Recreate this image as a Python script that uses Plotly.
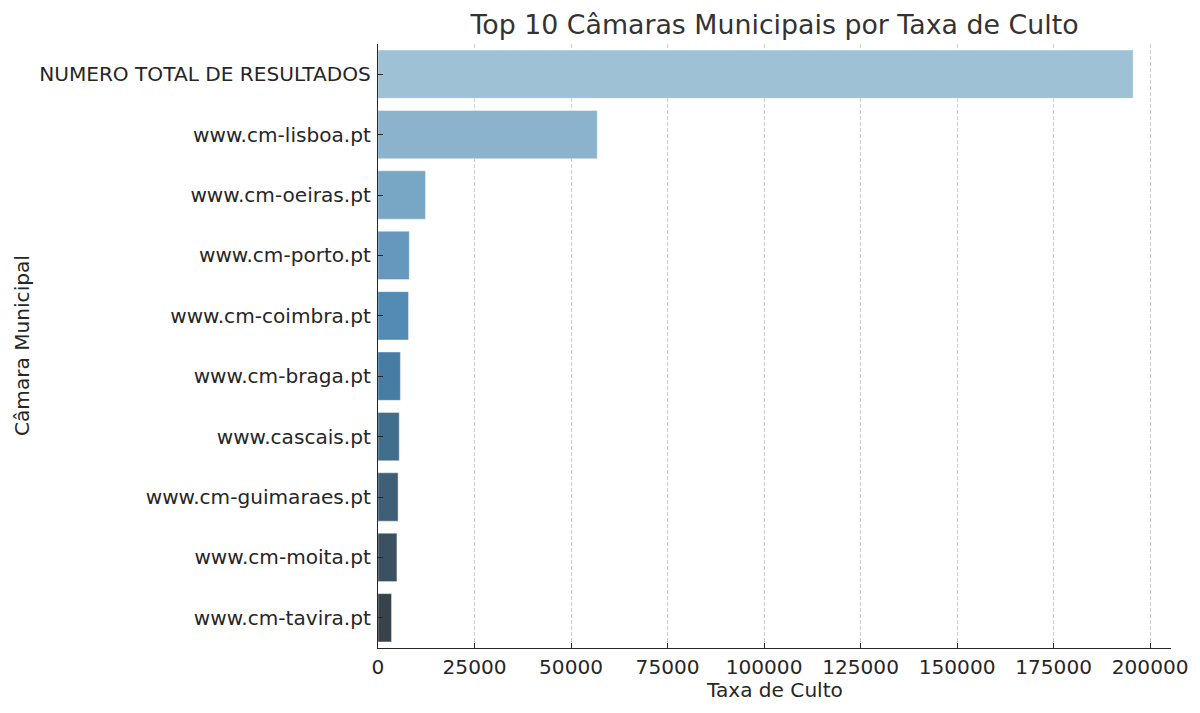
import colorsys
import plotly.graph_objects as go

categories = [
    "NUMERO TOTAL DE RESULTADOS",
    "www.cm-lisboa.pt",
    "www.cm-oeiras.pt",
    "www.cm-porto.pt",
    "www.cm-coimbra.pt",
    "www.cm-braga.pt",
    "www.cascais.pt",
    "www.cm-guimaraes.pt",
    "www.cm-moita.pt",
    "www.cm-tavira.pt",
]
values = [195600, 56800, 12300, 8100, 7900, 5800, 5500, 5200, 4900, 3500]
x_ticks = [0, 25000, 50000, 75000, 100000, 125000, 150000, 175000, 200000]

title_text = "Top 10 Câmaras Municipais por Taxa de Culto"
x_title = "Taxa de Culto"
y_title = "Câmara Municipal"


# seaborn-like "Blues_d" palette, desaturated to 0.75
def blend_palette(anchors, n):
    out = []
    for i in range(n):
        t = (i + 1) / (n + 1)
        seg = min(int(t * (len(anchors) - 1)), len(anchors) - 2)
        f = t * (len(anchors) - 1) - seg
        a, b = anchors[seg], anchors[seg + 1]
        rgb = [(a[k] + (b[k] - a[k]) * f) / 255 for k in range(3)]
        h, l, s = colorsys.rgb_to_hls(*rgb)
        r, g, bb = colorsys.hls_to_rgb(h, l, s * 0.75)
        out.append("rgb(%d,%d,%d)" % (round(r * 255), round(g * 255), round(bb * 255)))
    return out


colors = blend_palette([(171, 208, 230), (55, 135, 192), (51, 51, 51)], len(categories))

FONT = "DejaVu Sans"
TXT = "#262626"
FS = 20.1

# plot area in figure coordinates (page has an 8px body offset)
L, R, T, B = 370, 1163, 36, 640
W, H = 1200, 713

fig = go.Figure(
    go.Bar(
        x=values,
        y=categories,
        orientation="h",
        width=0.8,
        marker=dict(color=colors, line=dict(width=0.8, color="rgba(255,255,255,0.5)")),
    )
)

fig.update_layout(
    width=W,
    height=H,
    margin=dict(l=L, r=W - R, t=T, b=H - B),
    paper_bgcolor="white",
    plot_bgcolor="white",
    showlegend=False,
    font=dict(family=FONT, size=FS, color=TXT),
    title=dict(
        text=title_text,
        x=0.5,
        xref="paper",
        xanchor="center",
        y=1 - 17 / H,
        yref="container",
        yanchor="middle",
        font=dict(family=FONT, size=26.8, color="#333333"),
    ),
    bargap=0.2,
)

fig.update_xaxes(
    range=[0, 205400],
    tickvals=x_ticks,
    ticktext=[str(v) for v in x_ticks],
    showgrid=True,
    gridcolor="#cfcfcf",
    gridwidth=0.8,
    griddash="4px,2px",
    showline=True,
    linecolor="#262626",
    linewidth=1.3,
    ticks="inside",
    ticklen=5,
    tickwidth=1.2,
    tickcolor="#262626",
    ticklabelstandoff=1,
    zeroline=False,
    tickfont=dict(family=FONT, size=FS, color=TXT),
    title=None,
)

fig.update_yaxes(
    type="category",
    categoryorder="array",
    categoryarray=categories,
    range=[9.5, -0.5],
    showgrid=False,
    showline=True,
    linecolor="#262626",
    linewidth=1.3,
    ticks="inside",
    ticklen=5,
    tickwidth=1.2,
    tickcolor="#262626",
    ticklabelstandoff=2,
    zeroline=False,
    tickfont=dict(family=FONT, size=FS, color=TXT),
    title=None,
)

fig.add_annotation(
    text=x_title, xref="paper", yref="paper", x=0.5, y=-((682 - B) / (B - T)),
    xanchor="center", yanchor="middle", showarrow=False,
    font=dict(family=FONT, size=FS, color=TXT),
)
fig.add_annotation(
    text=y_title, xref="paper", yref="paper", x=-((L - 14) / (R - L)), y=0.5,
    xanchor="center", yanchor="middle", showarrow=False, textangle=-90,
    font=dict(family=FONT, size=FS, color=TXT),
)

fig.write_html("out.html")
